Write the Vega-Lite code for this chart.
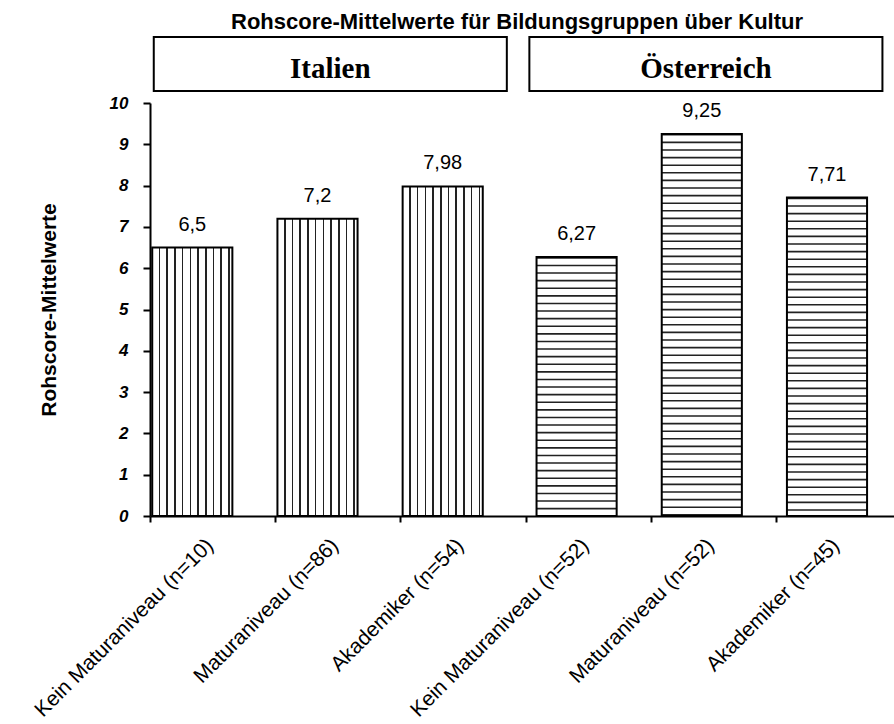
{
  "$schema": "https://vega.github.io/schema/vega-lite/v6.json",
  "width": 744,
  "height": 413,
  "autosize": {"type": "none"},
  "padding": {"left": 150, "top": 103, "right": 0, "bottom": 208},
  "background": "white",
  "config": {
    "view": {"stroke": null},
    "font": "Liberation Sans",
    "locale": {"number": {"decimal": ",", "thousands": ".", "grouping": [3], "currency": ["", " €"]}},
    "axis": {"domainColor": "black", "tickColor": "black", "labelColor": "black", "titleColor": "black", "grid": false, "domainWidth": 2, "tickWidth": 2, "labelFont": "Liberation Sans", "titleFont": "Liberation Sans"}
  },
  "title": {
    "text": "Rohscore-Mittelwerte für Bildungsgruppen über Kultur",
    "font": "Liberation Sans",
    "fontSize": 22,
    "fontWeight": "bold",
    "color": "black",
    "anchor": "middle",
    "baseline": "alphabetic",
    "offset": 0,
    "dy": 15,
    "dx": -5
  },
  "data": {"values": [
      {"Kategorie": "Kein Maturaniveau (n=10)", "Land": "Italien", "Wert": 6.5},
      {"Kategorie": "Maturaniveau (n=86)", "Land": "Italien", "Wert": 7.2},
      {"Kategorie": "Akademiker (n=54)", "Land": "Italien", "Wert": 7.98},
      {"Kategorie": "Kein Maturaniveau (n=52)", "Land": "Österreich", "Wert": 6.27},
      {"Kategorie": "Maturaniveau (n=52)", "Land": "Österreich", "Wert": 9.25},
      {"Kategorie": "Akademiker (n=45)", "Land": "Österreich", "Wert": 7.71}
  ]},
  "encoding": {
    "x": {
      "field": "Kategorie",
      "type": "nominal",
      "sort": null,
      "scale": {
        "domain": ["Kein Maturaniveau (n=10)", "Maturaniveau (n=86)", "Akademiker (n=54)", "Kein Maturaniveau (n=52)", "Maturaniveau (n=52)", "Akademiker (n=45)"],
        "range": [0, 751.2],
        "paddingInner": 0,
        "paddingOuter": 0
      },
      "axis": {
        "title": null,
        "labelAngle": -45,
        "labelAlign": "right",
        "labelBaseline": "middle",
        "labelFontSize": 21,
        "labelPadding": 20,
        "labelOffset": -3,
        "labelLimit": 500,
        "labelOverlap": false,
        "tickSize": 6,
        "tickBand": "extent"
      }
    },
    "y": {
      "field": "Wert",
      "type": "quantitative",
      "scale": {"domain": [0, 10], "nice": false, "zero": true},
      "axis": {
        "title": "Rohscore-Mittelwerte",
        "titleFontSize": 21,
        "titleFontWeight": "bold",
        "titlePadding": 50,
        "values": [0, 1, 2, 3, 4, 5, 6, 7, 8, 9, 10],
        "labelFontSize": 17,
        "labelFontWeight": "bold",
        "labelFontStyle": "italic",
        "labelPadding": 15,
        "tickSize": 7
      }
    }
  },
  "layer": [
    {
      "transform": [{"filter": "datum.Land === 'Italien'"}],
      "mark": {
        "type": "bar",
        "width": {"band": 0.64},
        "xOffset": -20.3,
        "stroke": "black",
        "strokeWidth": 2,
        "fill": {
          "gradient": "linear",
          "x1": 0, "y1": 0, "x2": 1, "y2": 0,
          "stops": [
            {"offset": 0, "color": "#ffffff"},
            {"offset": 0.0813, "color": "#ffffff"}, {"offset": 0.0813, "color": "#222222"}, {"offset": 0.1013, "color": "#222222"}, {"offset": 0.1013, "color": "#ffffff"},
            {"offset": 0.1775, "color": "#ffffff"}, {"offset": 0.1775, "color": "#222222"}, {"offset": 0.1975, "color": "#222222"}, {"offset": 0.1975, "color": "#ffffff"},
            {"offset": 0.2738, "color": "#ffffff"}, {"offset": 0.2738, "color": "#222222"}, {"offset": 0.2938, "color": "#222222"}, {"offset": 0.2938, "color": "#ffffff"},
            {"offset": 0.37, "color": "#ffffff"}, {"offset": 0.37, "color": "#222222"}, {"offset": 0.39, "color": "#222222"}, {"offset": 0.39, "color": "#ffffff"},
            {"offset": 0.4663, "color": "#ffffff"}, {"offset": 0.4663, "color": "#222222"}, {"offset": 0.4863, "color": "#222222"}, {"offset": 0.4863, "color": "#ffffff"},
            {"offset": 0.5625, "color": "#ffffff"}, {"offset": 0.5625, "color": "#222222"}, {"offset": 0.5825, "color": "#222222"}, {"offset": 0.5825, "color": "#ffffff"},
            {"offset": 0.6588, "color": "#ffffff"}, {"offset": 0.6588, "color": "#222222"}, {"offset": 0.6788, "color": "#222222"}, {"offset": 0.6788, "color": "#ffffff"},
            {"offset": 0.755, "color": "#ffffff"}, {"offset": 0.755, "color": "#222222"}, {"offset": 0.775, "color": "#222222"}, {"offset": 0.775, "color": "#ffffff"},
            {"offset": 0.8513, "color": "#ffffff"}, {"offset": 0.8513, "color": "#222222"}, {"offset": 0.8713, "color": "#222222"}, {"offset": 0.8713, "color": "#ffffff"},
            {"offset": 0.9475, "color": "#ffffff"}, {"offset": 0.9475, "color": "#222222"}, {"offset": 0.9675, "color": "#222222"}, {"offset": 0.9675, "color": "#ffffff"},
            {"offset": 1, "color": "#ffffff"}
          ]
        }
      }
    },
    {
      "transform": [{"filter": "datum.Land === 'Italien'"}],
      "mark": {"type": "text", "xOffset": -20.3, "dy": -17, "baseline": "alphabetic", "fontSize": 20, "font": "Liberation Sans", "color": "black"},
      "encoding": {"text": {"field": "Wert", "type": "quantitative", "format": ".3~r"}}
    },
    {
      "transform": [{"filter": "datum.Land === 'Österreich'"}],
      "mark": {"type": "rule", "xOffset": -11.6, "strokeWidth": 80, "strokeCap": "butt", "strokeDash": [1.6, 6.0], "color": "#222222"},
      "encoding": {"y2": {"datum": 0}}
    },
    {
      "transform": [{"filter": "datum.Land === 'Österreich'"}],
      "mark": {"type": "bar", "width": {"band": 0.64}, "xOffset": -11.6, "stroke": "black", "strokeWidth": 2, "fill": "transparent"}
    },
    {
      "transform": [{"filter": "datum.Land === 'Österreich'"}],
      "mark": {"type": "text", "xOffset": -11.6, "dy": -17, "baseline": "alphabetic", "fontSize": 20, "font": "Liberation Sans", "color": "black"},
      "encoding": {"text": {"field": "Wert", "type": "quantitative", "format": ".3~r"}}
    },
    {
      "transform": [{"filter": "indexof(datum.Kategorie, 'Maturaniveau (') === 0"}],
      "mark": {"type": "bar", "width": {"band": 2.82}, "xOffset": -7.5, "fill": "white", "stroke": "black", "strokeWidth": 2},
      "encoding": {
        "y": {"datum": 11.6, "type": "quantitative"},
        "y2": {"datum": 10.29}
      }
    },
    {
      "transform": [{"filter": "indexof(datum.Kategorie, 'Maturaniveau (') === 0"}],
      "mark": {"type": "text", "font": "Liberation Serif", "fontWeight": "bold", "fontSize": 29, "baseline": "alphabetic", "xOffset": -7.5, "color": "black"},
      "encoding": {
        "y": {"datum": 10.6, "type": "quantitative"},
        "text": {"field": "Land", "type": "nominal"}
      }
    }
  ]
}
